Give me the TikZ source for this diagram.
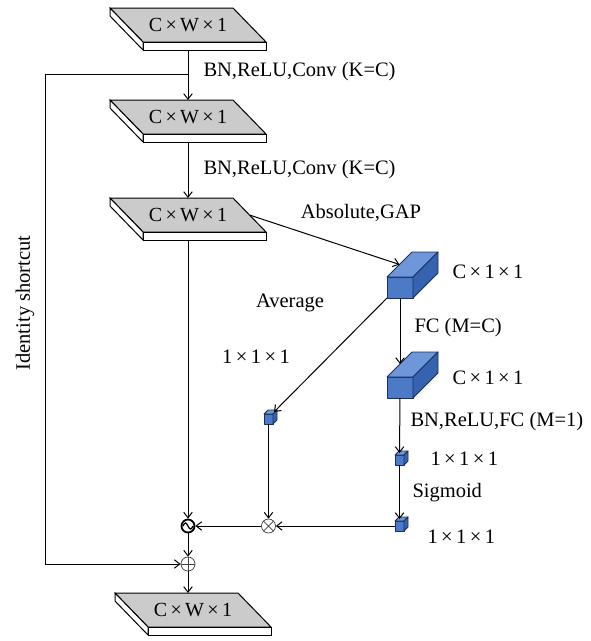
\documentclass[tikz,border=0pt]{standalone}
\usepackage{fontspec}
\setmainfont{Liberation Serif}
\usetikzlibrary{arrows.meta,calc}
\definecolor{slabgray}{HTML}{CBCBCB}
\definecolor{cfront}{HTML}{4C7AC6}
\definecolor{ctop}{HTML}{6E97DA}
\definecolor{cright}{HTML}{3563B0}
\definecolor{cedge}{HTML}{1B2F5E}
\newcommand{\myslab}[3]{%
  \draw[slabline, fill=slabgray] (#2-78,#3-17) -- (#2+45,#3-17) -- (#2+78,#3+17) -- (#2-45,#3+17) -- cycle;
  \draw[slabline, fill=white] (#2-45,#3+17) -- (#2+78,#3+17) -- (#2+78,#3+25) -- (#2-45,#3+25) -- cycle;
  \draw[slabline, fill=white] (#2-78,#3-17) -- (#2-45,#3+17) -- (#2-45,#3+25) -- (#2-78,#3-9) -- cycle;
  \node[slabtext] (#1) at (#2,#3) {C\,×\,W\,×\,1};
  \coordinate (#1-t) at (#2,#3-17);
  \coordinate (#1-b) at (#2,#3+25);
  \coordinate (#1-r) at (#2+61.5,#3);
}
\newcommand{\mybigcube}[3]{%
  \draw[cubeline, fill=cfront] (#2,#3) rectangle (#2+26,#3+21);
  \draw[cubeline, fill=ctop] (#2,#3) -- (#2+25,#3-25) -- (#2+51,#3-25) -- (#2+26,#3) -- cycle;
  \draw[cubeline, fill=cright] (#2+26,#3) -- (#2+51,#3-25) -- (#2+51,#3-4) -- (#2+26,#3+21) -- cycle;
  \coordinate (#1-tl) at (#2+12.5,#3-12.5);
  \coordinate (#1-t) at (#2+13,#3-13);
  \coordinate (#1-b) at (#2+13,#3+21);
  \coordinate (#1-bl) at (#2,#3+21);
}
\newcommand{\mysmallcube}[3]{%
  \draw[cubeline, fill=cfront] (#2,#3) rectangle (#2+9,#3+10);
  \draw[cubeline, fill=ctop] (#2,#3) -- (#2+4,#3-4) -- (#2+13,#3-4) -- (#2+9,#3) -- cycle;
  \draw[cubeline, fill=cright] (#2+9,#3) -- (#2+13,#3-4) -- (#2+13,#3+6) -- (#2+9,#3+10) -- cycle;
  \coordinate (#1-t) at (#2+4.5,#3-2);
  \coordinate (#1-tr) at (#2+10,#3-2);
  \coordinate (#1-b) at (#2+4.5,#3+10);
  \coordinate (#1-l) at (#2,#3+5);
}
\begin{document}
\begin{tikzpicture}[x=1pt,y=-1pt,line width=1pt,
  >={Straight Barb[length=5.5pt,width=8.5pt]},
  lab/.style={font=\fontsize{20.5}{24}\selectfont, inner sep=0pt},
  slabtext/.style={font=\fontsize{20}{24}\selectfont, inner sep=0pt},
  slabline/.style={draw=black, line width=1pt, line join=miter},
  cubeline/.style={draw=cedge, line width=0.9pt, line join=round},
  opcirc/.style={circle, draw=black!75, line width=0.7pt, minimum size=14pt, inner sep=0pt}]
\useasboundingbox (0,0) rectangle (591,641);

% slabs
\myslab{s1}{188}{25}
\myslab{s2}{188}{117}
\myslab{s3}{188}{215}
\myslab{s4}{193}{610}

% cubes
\mybigcube{c1}{387}{277}
\mybigcube{c2}{387}{377}
\mysmallcube{sa}{264}{414}
\mysmallcube{sb}{395}{455}
\mysmallcube{sc}{395}{521}

% operators
\node[circle, draw=black, line width=1.8pt, minimum size=13pt, inner sep=0pt] (sub) at (188,526) {};
\draw[line width=1.3pt] ([xshift=-5pt]sub.center) sin ++(2.5,-3) cos ++(2.5,3) sin ++(2.5,3) cos ++(2.5,-3);
\node[opcirc] (mul) at (268.5,526) {};
\draw[black!75, line width=0.7pt] (mul.north west) -- (mul.south east) (mul.north east) -- (mul.south west);
\node[opcirc] (plus) at (188,564) {};
\draw[black!75, line width=0.7pt] (plus.north) -- (plus.south) (plus.west) -- (plus.east);

% labels
\node[lab, anchor=west] (l1) at (203,72) {BN,ReLU,Conv (K=C)};
\node[lab, anchor=west] (l2) at (203,170) {BN,ReLU,Conv (K=C)};
\node[lab] (l3) at (361,213) {Absolute,GAP};
\node[lab, anchor=west] (l4) at (452,272) {C\,×\,1\,×\,1};
\node[lab] (l5) at (290,303) {Average};
\node[lab, anchor=west] (l6) at (414,328) {FC (M=C)};
\node[lab] (l7) at (256,357) {1\,×\,1\,×\,1};
\node[lab, anchor=west] (l8) at (452,378) {C\,×\,1\,×\,1};
\node[lab, anchor=west] (l9) at (410,422) {BN,ReLU,FC (M=1)};
\node[lab, anchor=west] (l10) at (430,459) {1\,×\,1\,×\,1};
\node[lab, anchor=west] (l11) at (412,493) {Sigmoid};
\node[lab, anchor=west] (l12) at (427,537) {1\,×\,1\,×\,1};
\node[lab, rotate=90] (l13) at (25,303) {Identity shortcut};

% connectors
\coordinate (scstart) at (188,74);
\coordinate (sctop) at (45,74);
\draw[->] (s1-b) -- (s2-t);
\draw[->] (s2-b) -- (s3-t);
\draw[->] (scstart) -- (sctop) |- (plus);
\draw[->] (s3-r) -- (c1-tl);
\draw[->] (s3-b) -- (sub);
\draw[->] (c1-b) -- (c2-t);
\draw[->] (c1-bl) -- (sa-tr);
\draw[->] (c2-b) -- (sb-t);
\draw[->] (sb-b) -- (sc-t);
\draw[->] (sa-b) -- (mul);
\draw[->] (sc-l) -- (mul);
\draw[->] (mul) -- (sub);
\draw[->] (sub) -- (plus);
\draw[->] (plus) -- (plus |- s4-t);
\end{tikzpicture}
\end{document}
